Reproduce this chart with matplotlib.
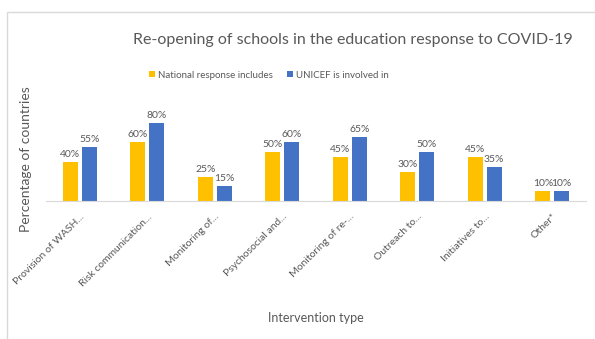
import matplotlib.pyplot as plt
import numpy as np
from matplotlib.patches import Rectangle

categories = ['Provision of WASH...', 'Risk communication...', 'Monitoring of...',
              'Psychosocial and...', 'Monitoring of re-...', 'Outreach to...',
              'Initiatives to...', 'Other*']
national = [40, 60, 25, 50, 45, 30, 45, 10]
unicef = [55, 80, 15, 60, 65, 50, 35, 10]

plt.rcParams['font.family'] = ['Lato', 'DejaVu Sans']
grey = '#595959'
yellow = '#FFC000'
blue = '#4472C4'

fig = plt.figure(figsize=(5.95, 3.39), dpi=100)
fig.patches.append(Rectangle((7 / 595, -0.05), 1.0, 1.05 - 12 / 339,
                             transform=fig.transFigure, fill=False,
                             edgecolor='#d9d9d9', linewidth=1))
ax = fig.add_axes([46 / 595, 138 / 339, 540 / 595, 98 / 339])

x = np.arange(len(categories))
w = 0.22
b1 = ax.bar(x - 0.14, national, w, color=yellow, label='National response includes')
b2 = ax.bar(x + 0.14, unicef, w, color=blue, label='UNICEF is involved in')
for bars in (b1, b2):
    for r in bars:
        ax.text(r.get_x() + r.get_width() / 2, r.get_height() + 3,
                f'{r.get_height():.0f}%', ha='center', va='bottom',
                fontsize=7.5, color=grey)

ax.set_xlim(-0.5, len(categories) - 0.5)
ax.set_ylim(0, 100)
ax.set_yticks([])
ax.set_xticks(x)
ax.set_xticklabels(categories, rotation=45, ha='right', rotation_mode='anchor',
                   fontsize=7.5, color=grey)
ax.tick_params(axis='x', length=0, pad=8)
for s in ('top', 'right', 'left'):
    ax.spines[s].set_visible(False)
ax.spines['bottom'].set_color('#d9d9d9')

fig.text(26 / 595, 1 - 159 / 339, 'Percentage of countries', fontsize=10,
         color=grey, rotation=90, ha='center', va='center')
fig.text(316 / 595, 1 - 318 / 339, 'Intervention type', fontsize=9, color=grey,
         ha='center', va='center')
fig.text(353 / 595, 1 - 40 / 339, 'Re-opening of schools in the education response to COVID-19',
         fontsize=11.5, color=grey, ha='center', va='center')
fig.legend(loc='center', bbox_to_anchor=(269 / 595, 1 - 75 / 339), ncol=2,
           frameon=False, fontsize=7, labelcolor=grey, handlelength=0.6,
           handleheight=0.6, handletextpad=0.3, columnspacing=1.5)

fig.savefig('out.png', dpi=100)
